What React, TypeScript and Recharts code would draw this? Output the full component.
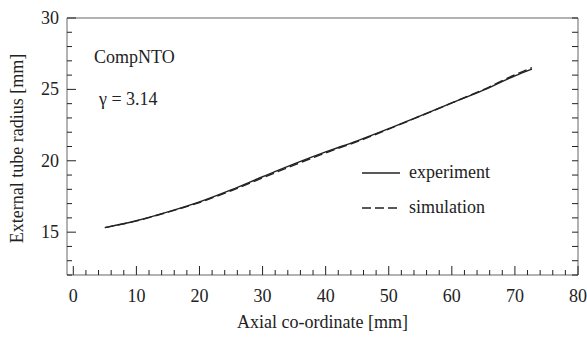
import { Legend, Line, LineChart, ReferenceLine, XAxis, YAxis } from 'recharts'

const axialMm = [5, 10, 15, 20, 25, 30, 35, 40, 45, 50, 55, 60, 65, 70, 72.7]
const experiment = [15.32, 15.8, 16.42, 17.12, 17.96, 18.88, 19.78, 20.62, 21.4, 22.25, 23.15, 24.05, 24.95, 25.95, 26.42]
const simulation = [15.32, 15.79, 16.4, 17.08, 17.9, 18.8, 19.7, 20.55, 21.34, 22.22, 23.13, 24.05, 24.99, 26.02, 26.52]

const xTicks = Array.from({ length: 41 }, (_, i) => i * 2)
const yTicks = Array.from({ length: 19 }, (_, i) => 12 + i)

const FONT = 'Liberation Serif, Times New Roman, serif'
const INK = '#222'
const FRAME = '#666'

const SERIES = [
  { key: 'experiment', dash: undefined },
  { key: 'simulation', dash: '9 4' },
]

const data = axialMm.map((x, i) => ({ x, experiment: experiment[i], simulation: simulation[i] }))

const textStyle = { fontFamily: FONT, fontSize: 18 }

function BottomTick({ x, y, payload }: any) {
  const major = payload.value % 10 === 0
  return (
    <g>
      <line x1={x} x2={x} y1={y} y2={y - (major ? 9 : 5)} stroke={INK} />
      {major && (
        <text x={x} y={y + 27} textAnchor="middle" style={textStyle} fill={INK}>
          {payload.value}
        </text>
      )}
    </g>
  )
}

function LeftTick({ x, y, payload }: any) {
  const major = payload.value % 5 === 0
  return (
    <g>
      <line x1={x} x2={x + (major ? 9 : 5)} y1={y} y2={y} stroke={INK} />
      {major && (
        <text x={x - 8} y={y + 6} textAnchor="end" style={textStyle} fill={INK}>
          {payload.value}
        </text>
      )}
    </g>
  )
}

function RightTick({ x, y }: any) {
  return <line x1={x} x2={x - 6} y1={y} y2={y} stroke={INK} />
}

function LegendBox() {
  return (
    <div style={{ ...textStyle, color: INK }}>
      {SERIES.map((s) => (
        <div key={s.key} style={{ display: 'flex', alignItems: 'center', height: 35 }}>
          <svg width={38} height={6}>
            <line x1={0} x2={38} y1={3} y2={3} stroke={INK} strokeWidth={1.3} strokeDasharray={s.dash} />
          </svg>
          <span style={{ marginLeft: 9 }}>{s.key}</span>
        </div>
      ))}
    </div>
  )
}

export default function App() {
  return (
    <div style={{ position: 'absolute', left: 0, top: 0, background: '#fff' }}>
      <LineChart width={587} height={339} data={data} margin={{ top: 18, right: 8, bottom: 63, left: 66 }}>
        <XAxis
          dataKey="x"
          type="number"
          domain={[-1, 80]}
          ticks={xTicks}
          interval={0}
          height={1}
          tickSize={0}
          tickMargin={0}
          tickLine={false}
          stroke={FRAME}
          tick={<BottomTick />}
          allowDataOverflow
          label={{
            content: ({ viewBox }: any) => (
              <text
                x={viewBox.x + viewBox.width / 2}
                y={viewBox.y + 53}
                textAnchor="middle"
                style={textStyle}
                fill={INK}
              >
                Axial co-ordinate [mm]
              </text>
            ),
          }}
        />
        <YAxis
          yAxisId="l"
          type="number"
          domain={[12, 30]}
          ticks={yTicks}
          interval={0}
          width={1}
          tickSize={0}
          tickMargin={0}
          tickLine={false}
          stroke={FRAME}
          tick={<LeftTick />}
          allowDataOverflow
          label={{
            content: ({ viewBox }: any) => {
              const cx = viewBox.x + viewBox.width - 50
              const cy = viewBox.y + viewBox.height / 2 + 2
              return (
                <text
                  x={cx}
                  y={cy}
                  transform={`rotate(-90 ${cx} ${cy})`}
                  textAnchor="middle"
                  dominantBaseline="central"
                  style={textStyle}
                  fill={INK}
                >
                  External tube radius [mm]
                </text>
              )
            },
          }}
        />
        <YAxis
          yAxisId="r"
          orientation="right"
          type="number"
          domain={[12, 30]}
          ticks={yTicks}
          interval={0}
          width={1}
          tickSize={0}
          tickMargin={0}
          tickLine={false}
          stroke={FRAME}
          tick={<RightTick />}
          allowDataOverflow
        />
        <ReferenceLine yAxisId="l" y={30} stroke={FRAME} />
        {SERIES.map((s) => (
          <Line
            key={s.key}
            yAxisId="l"
            dataKey={s.key}
            type="monotone"
            stroke={INK}
            strokeWidth={1.4}
            strokeDasharray={s.dash}
            dot={false}
            isAnimationActive={false}
          />
        ))}
        <Legend
          layout="horizontal"
          verticalAlign="middle"
          align="center"
          content={<LegendBox />}
          wrapperStyle={{ position: 'absolute', left: 362, top: 155, width: 'auto' }}
        />
        <text x={94} y={63} style={textStyle} fill={INK}>
          CompNTO
        </text>
        <text x={99} y={105} style={textStyle} fill={INK}>
          γ = 3.14
        </text>
      </LineChart>
    </div>
  )
}
